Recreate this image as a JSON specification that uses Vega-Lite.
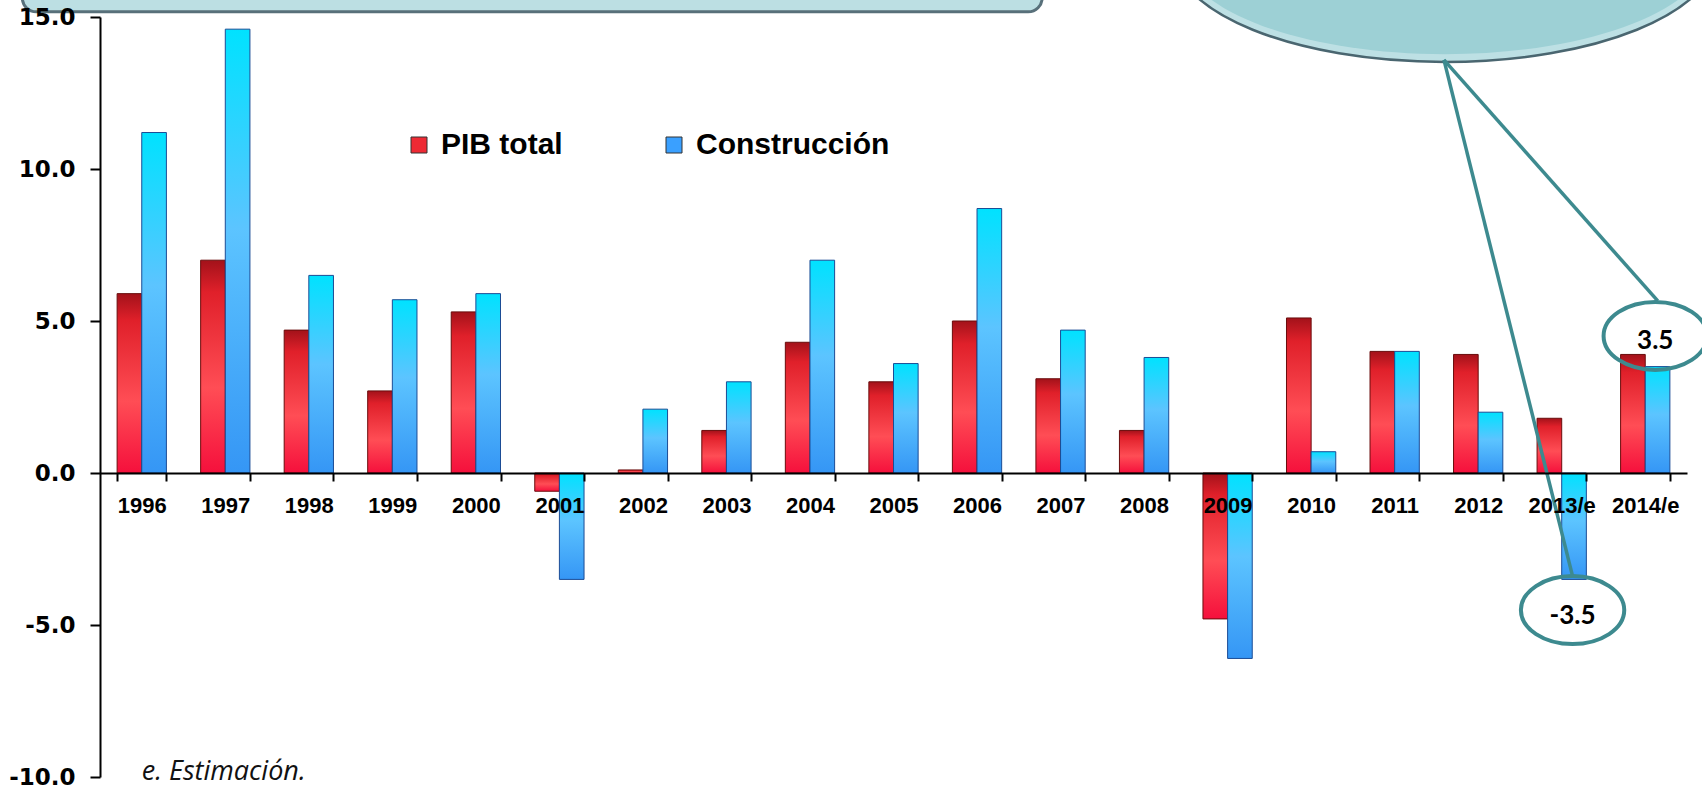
{
  "$schema": "https://vega.github.io/schema/vega-lite/v6.json",
  "width": 1587,
  "height": 760,
  "autosize": "none",
  "padding": {"left": 100, "top": 17, "right": 15, "bottom": 14},
  "background": "white",
  "config": {"view": {"stroke": null}},
  "datasets": {
    "bars": [
      {"year": "1996", "series": "PIB total", "value": 5.9},
      {"year": "1996", "series": "Construcción", "value": 11.2},
      {"year": "1997", "series": "PIB total", "value": 7.0},
      {"year": "1997", "series": "Construcción", "value": 14.6},
      {"year": "1998", "series": "PIB total", "value": 4.7},
      {"year": "1998", "series": "Construcción", "value": 6.5},
      {"year": "1999", "series": "PIB total", "value": 2.7},
      {"year": "1999", "series": "Construcción", "value": 5.7},
      {"year": "2000", "series": "PIB total", "value": 5.3},
      {"year": "2000", "series": "Construcción", "value": 5.9},
      {"year": "2001", "series": "PIB total", "value": -0.6},
      {"year": "2001", "series": "Construcción", "value": -3.5},
      {"year": "2002", "series": "PIB total", "value": 0.1},
      {"year": "2002", "series": "Construcción", "value": 2.1},
      {"year": "2003", "series": "PIB total", "value": 1.4},
      {"year": "2003", "series": "Construcción", "value": 3.0},
      {"year": "2004", "series": "PIB total", "value": 4.3},
      {"year": "2004", "series": "Construcción", "value": 7.0},
      {"year": "2005", "series": "PIB total", "value": 3.0},
      {"year": "2005", "series": "Construcción", "value": 3.6},
      {"year": "2006", "series": "PIB total", "value": 5.0},
      {"year": "2006", "series": "Construcción", "value": 8.7},
      {"year": "2007", "series": "PIB total", "value": 3.1},
      {"year": "2007", "series": "Construcción", "value": 4.7},
      {"year": "2008", "series": "PIB total", "value": 1.4},
      {"year": "2008", "series": "Construcción", "value": 3.8},
      {"year": "2009", "series": "PIB total", "value": -4.8},
      {"year": "2009", "series": "Construcción", "value": -6.1},
      {"year": "2010", "series": "PIB total", "value": 5.1},
      {"year": "2010", "series": "Construcción", "value": 0.7},
      {"year": "2011", "series": "PIB total", "value": 4.0},
      {"year": "2011", "series": "Construcción", "value": 4.0},
      {"year": "2012", "series": "PIB total", "value": 3.9},
      {"year": "2012", "series": "Construcción", "value": 2.0},
      {"year": "2013/e", "series": "PIB total", "value": 1.8},
      {"year": "2013/e", "series": "Construcción", "value": -3.5},
      {"year": "2014/e", "series": "PIB total", "value": 3.9},
      {"year": "2014/e", "series": "Construcción", "value": 3.5}
    ],
    "box": [{"ax": -0.93, "ax2": 11.28, "ay": 17.5, "ay2": 15.17}],
    "bigEllipse": [{"ax": 16.1, "ay": 17.14}],
    "lines": [
      {"ax": 16.09, "ay": 13.59, "ax2": 17.63, "ay2": -3.39},
      {"ax": 16.09, "ay": 13.59, "ax2": 18.65, "ay2": 5.66}
    ],
    "callouts": [
      {"ax": 18.62, "ay": 4.51, "tay": 4.34, "label": "3.5"},
      {"ax": 17.63, "ay": -4.51, "tay": -4.7, "label": "-3.5"}
    ],
    "note": [{"ax": 0.5, "ay": -9.82, "label": "e. Estimación."}]
  },
  "layer": [
    {
      "data": {"name": "box"},
      "mark": {"type": "rect", "fill": "#bcdfe3", "stroke": "#58707a", "strokeWidth": 3, "cornerRadius": 14, "clip": false},
      "encoding": {
        "x": {"field": "ax", "type": "quantitative", "scale": {"domain": [0, 19], "nice": false, "zero": false}, "axis": null},
        "x2": {"field": "ax2"},
        "y": {"field": "ay", "type": "quantitative", "title": null},
        "y2": {"field": "ay2"}
      }
    },
    {
      "layer": [
        {
          "data": {"name": "bars"},
          "transform": [{"filter": "datum.series === 'PIB total'"}],
          "mark": {
            "type": "bar",
            "stroke": "#6a0c0c",
            "strokeWidth": 1,
            "fill": {"gradient": "linear", "x1": 0, "y1": 0, "x2": 0, "y2": 1,
              "stops": [
                {"offset": 0, "color": "#a3121a"},
                {"offset": 0.15, "color": "#e0202a"},
                {"offset": 0.6, "color": "#ff4d55"},
                {"offset": 1, "color": "#f5103c"}
              ]}
          },
          "encoding": {
            "x": {"field": "year", "type": "nominal", "sort": null,
              "scale": {"paddingInner": 0.41, "paddingOuter": 0.205},
              "axis": {"title": null, "orient": "bottom", "offset": -304, "labelAngle": 0, "zindex": 1,
                "domainColor": "black", "domainWidth": 2, "tickColor": "black", "tickWidth": 2, "tickSize": 8,
                "tickBand": "extent", "labelFont": "Liberation Sans", "labelFontWeight": "bold", "labelFontSize": 22,
                "labelColor": "black", "labelPadding": 14, "grid": false}},
            "xOffset": {"field": "series", "type": "nominal", "scale": {"domain": ["PIB total", "Construcción"], "paddingInner": 0, "paddingOuter": 0}},
            "y": {"field": "value", "type": "quantitative",
              "scale": {"domain": [-10, 15], "nice": false, "zero": false},
              "axis": {"title": null, "values": [-10, -5, 0, 5, 10, 15], "zindex": 1,
                "labelExpr": "(datum.value < 0 ? '-' : '') + format(abs(datum.value), '.1f')",
                "domainColor": "black", "domainWidth": 2, "tickColor": "black", "tickWidth": 2, "tickSize": 10,
                "labelFont": "DejaVu Sans", "labelFontWeight": "bold", "labelFontSize": 23, "labelColor": "black",
                "labelPadding": 15, "grid": false}}
          }
        },
        {
          "data": {"name": "bars"},
          "transform": [{"filter": "datum.series === 'Construcción'"}],
          "mark": {
            "type": "bar",
            "stroke": "#1b4c95",
            "strokeWidth": 1,
            "fill": {"gradient": "linear", "x1": 0, "y1": 0, "x2": 0, "y2": 1,
              "stops": [
                {"offset": 0, "color": "#00e2ff"},
                {"offset": 0.45, "color": "#5cc4ff"},
                {"offset": 1, "color": "#3596f5"}
              ]}
          },
          "encoding": {
            "x": {"field": "year", "type": "nominal", "sort": null},
            "xOffset": {"field": "series", "type": "nominal", "scale": {"domain": ["PIB total", "Construcción"], "paddingInner": 0, "paddingOuter": 0}},
            "y": {"field": "value", "type": "quantitative", "title": null}
          }
        },
        {
          "data": {"name": "bars"},
          "mark": {"type": "point", "filled": true, "shape": "square", "opacity": 0},
          "encoding": {
            "x": {"field": "year", "type": "nominal", "sort": null},
            "xOffset": {"field": "series", "type": "nominal", "scale": {"domain": ["PIB total", "Construcción"], "paddingInner": 0, "paddingOuter": 0}},
            "y": {"field": "value", "type": "quantitative", "title": null},
            "color": {"field": "series", "type": "nominal",
              "scale": {"domain": ["PIB total", "Construcción"], "range": ["#ee2a34", "#3aa0ff"]},
              "legend": {"title": null, "orient": "none", "legendX": 304, "legendY": 113, "direction": "horizontal", "columns": 2,
                "symbolType": "square", "symbolSize": 256, "symbolOpacity": 1, "symbolStrokeColor": "#333333", "symbolStrokeWidth": 1,
                "labelFont": "Liberation Sans", "labelFontWeight": "bold", "labelFontSize": 30, "labelColor": "black",
                "labelOffset": 7, "columnPadding": 96, "labelLimit": 400}}
          }
        }
      ]
    },
    {
      "layer": [
        {
          "data": {"name": "bigEllipse"},
          "mark": {"type": "point", "filled": true, "clip": false, "size": 48400,
            "shape": "M -2.47 0 A 2.47 1 0 1 0 2.47 0 A 2.47 1 0 1 0 -2.47 0 Z",
            "fill": "#bde0e4", "stroke": "#4a6670", "strokeWidth": 2.5, "opacity": 1},
          "encoding": {
            "x": {"field": "ax", "type": "quantitative", "scale": {"domain": [0, 19], "nice": false, "zero": false}, "axis": null},
            "y": {"field": "ay", "type": "quantitative", "title": null}
          }
        },
        {
          "data": {"name": "bigEllipse"},
          "mark": {"type": "point", "filled": true, "clip": false, "size": 48400,
            "shape": "M -2.4 0 A 2.4 0.93 0 1 0 2.4 0 A 2.4 0.93 0 1 0 -2.4 0 Z",
            "fill": "#9dd0d5", "strokeWidth": 0, "opacity": 1},
          "encoding": {
            "x": {"field": "ax", "type": "quantitative"},
            "y": {"field": "ay", "type": "quantitative", "title": null}
          }
        },
        {
          "data": {"name": "lines"},
          "mark": {"type": "rule", "stroke": "#3d8a8f", "strokeWidth": 3.5, "clip": false},
          "encoding": {
            "x": {"field": "ax", "type": "quantitative"},
            "x2": {"field": "ax2"},
            "y": {"field": "ay", "type": "quantitative", "title": null},
            "y2": {"field": "ay2"}
          }
        },
        {
          "data": {"name": "callouts"},
          "mark": {"type": "point", "filled": false, "clip": false, "size": 4624,
            "shape": "M -1.52 0 A 1.52 1 0 1 0 1.52 0 A 1.52 1 0 1 0 -1.52 0 Z",
            "stroke": "#3d8a8f", "strokeWidth": 4, "opacity": 1},
          "encoding": {
            "x": {"field": "ax", "type": "quantitative"},
            "y": {"field": "ay", "type": "quantitative", "title": null}
          }
        },
        {
          "data": {"name": "callouts"},
          "mark": {"type": "text", "font": "Lato", "fontWeight": "bold", "fontSize": 26, "color": "black", "align": "center", "baseline": "middle", "clip": false},
          "encoding": {
            "x": {"field": "ax", "type": "quantitative"},
            "y": {"field": "tay", "type": "quantitative", "title": null},
            "text": {"field": "label"}
          }
        },
        {
          "data": {"name": "note"},
          "mark": {"type": "text", "font": "Open Sans", "fontStyle": "italic", "fontSize": 27, "color": "#111111", "align": "left", "baseline": "middle", "clip": false},
          "encoding": {
            "x": {"field": "ax", "type": "quantitative"},
            "y": {"field": "ay", "type": "quantitative", "title": null},
            "text": {"field": "label"}
          }
        }
      ]
    }
  ],
  "resolve": {"scale": {"x": "independent"}}
}
